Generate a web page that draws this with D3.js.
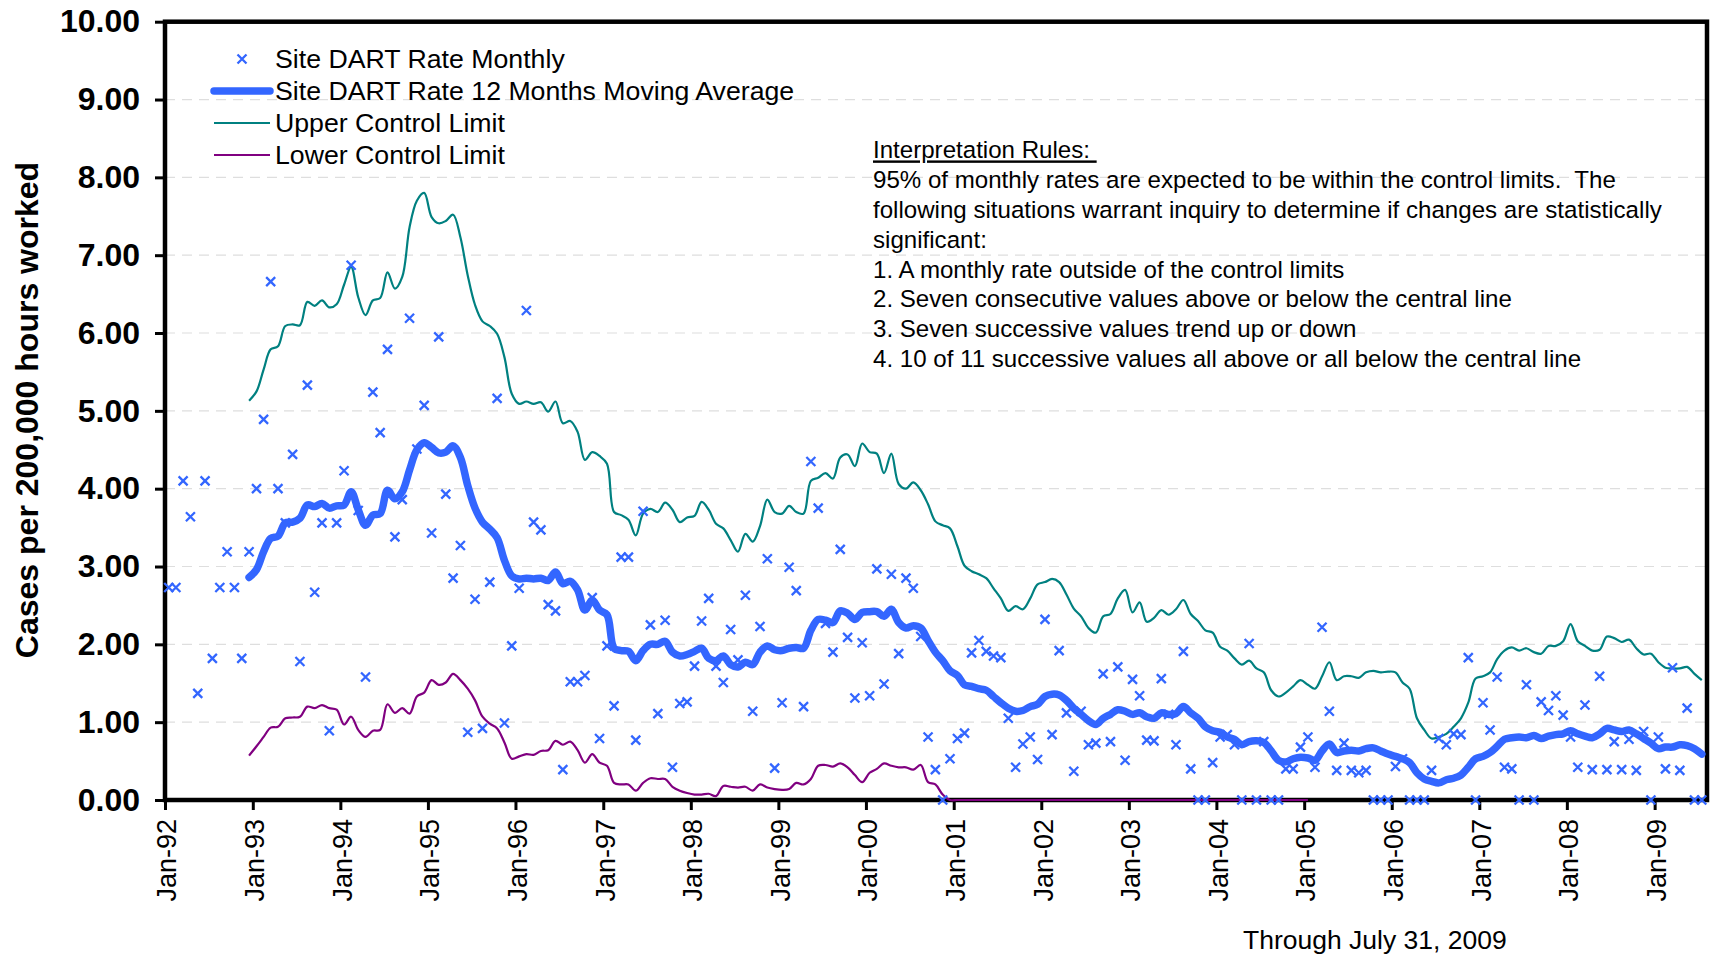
<!DOCTYPE html>
<html>
<head>
<meta charset="utf-8">
<script src="https://cdn.jsdelivr.net/npm/d3@7"></script>
<style>
    body { margin: 0; background: #ffffff; }
    svg { display: block; font-family: "Liberation Sans", Arial, sans-serif; }
</style>
</head>
<body>
<svg id="chart" width="1714" height="956"></svg>
<script>
// Months run Jan-92 .. Jul-09, control limits + moving average start at Dec-92
const firstMonth = new Date(1992, 0, 1);
const axisEnd = new Date(2009, 7, 1);
const limitStart = 11;

// Site DART rate, one value per month
const monthlyRate = [
    2.73, 2.73, 4.10, 3.64, 1.37, 4.10, 1.82, 2.73, 3.19, 2.73, 1.82, 3.19,
    4.00, 4.89, 6.66, 4.00, 3.56, 4.44, 1.78, 5.33, 2.67, 3.56, 0.89, 3.56,
    4.23, 6.87, 3.72, 1.58, 5.24, 4.72, 5.79, 3.38, 3.86, 6.19, 4.51, 5.07,
    3.43, 5.95, 3.93, 2.85, 3.27, 0.87, 2.58, 0.92, 2.80, 5.16, 0.99, 1.98,
    2.72, 6.29, 3.57, 3.47, 2.51, 2.43, 0.39, 1.52, 1.52, 1.60, 2.60, 0.79,
    1.98, 1.21, 3.12, 3.12, 0.77, 3.71, 2.25, 1.11, 2.31, 0.42, 1.24, 1.26,
    1.72, 2.30, 2.59, 1.72, 1.51, 2.19, 1.80, 2.63, 1.14, 2.23, 3.10, 0.41,
    1.25, 2.99, 2.69, 1.20, 4.35, 3.75, 2.27, 1.90, 3.22, 2.09, 1.31, 2.02,
    1.34, 2.97, 1.49, 2.90, 1.88, 2.85, 2.72, 2.10, 0.81, 0.39, 0.00, 0.53,
    0.79, 0.86, 1.89, 2.05, 1.91, 1.85, 1.83, 1.05, 0.42, 0.72, 0.81, 0.52,
    2.32, 0.84, 1.92, 1.12, 0.37, 1.14, 0.71, 0.73, 1.62, 0.75, 1.71, 0.51,
    1.55, 1.34, 0.77, 0.76, 1.56, 1.10, 0.71, 1.91, 0.40, 0.00, 0.00, 0.48,
    0.81, 0.84, 0.71, 0.00, 2.01, 0.00, 0.75, 0.00, 0.00, 0.40, 0.40, 0.68,
    0.81, 0.42, 2.22, 1.14, 0.38, 0.73, 0.38, 0.35, 0.38, 0.00, 0.00, 0.00,
    0.43, 0.53, 0.00, 0.00, 0.00, 0.38, 0.79, 0.71, 0.85, 0.84, 1.83, 0.00,
    1.25, 0.90, 1.58, 0.42, 0.40, 0.00, 1.48, 0.00, 1.26, 1.15, 1.34, 1.09,
    0.81, 0.42, 1.22, 0.39, 1.59, 0.39, 0.75, 0.39, 0.78, 0.38, 0.88, 0.00,
    0.81, 0.40, 1.70, 0.38, 1.18, 0.00, 0.00
];

// 12 months moving average, from Dec-92
const movingAvg = [
    2.86, 2.96, 3.19, 3.36, 3.39, 3.56, 3.57, 3.62, 3.79, 3.77, 3.81, 3.75, 3.78,
    3.79, 3.96, 3.73, 3.53, 3.66, 3.68, 3.98, 3.87, 3.96, 4.24, 4.50, 4.59,
    4.53, 4.46, 4.47, 4.55, 4.40, 4.04, 3.75, 3.57, 3.48, 3.37, 3.08, 2.88,
    2.84, 2.85, 2.84, 2.85, 2.82, 2.93, 2.78, 2.81, 2.70, 2.44, 2.57, 2.44,
    2.38, 1.95, 1.92, 1.91, 1.79, 1.92, 2.00, 2.00, 2.04, 1.90, 1.85, 1.87,
    1.91, 1.95, 1.82, 1.79, 1.85, 1.74, 1.71, 1.77, 1.74, 1.90, 1.98, 1.93,
    1.92, 1.95, 1.96, 1.95, 2.18, 2.32, 2.31, 2.28, 2.43, 2.40, 2.32, 2.41,
    2.42, 2.42, 2.36, 2.45, 2.28, 2.21, 2.24, 2.21, 2.05, 1.90, 1.79, 1.66,
    1.60, 1.48, 1.46, 1.43, 1.41, 1.33, 1.25, 1.18, 1.14, 1.15, 1.20, 1.23,
    1.33, 1.36, 1.35, 1.28, 1.18, 1.10, 1.02, 0.97, 1.05, 1.10, 1.16, 1.14,
    1.10, 1.12, 1.07, 1.05, 1.12, 1.10, 1.11, 1.20, 1.12, 1.05, 0.94, 0.89,
    0.87, 0.81, 0.78, 0.71, 0.75, 0.76, 0.74, 0.63, 0.51, 0.49, 0.53, 0.55,
    0.54, 0.51, 0.63, 0.72, 0.61, 0.63, 0.64, 0.63, 0.66, 0.67, 0.63, 0.59,
    0.56, 0.53, 0.48, 0.35, 0.27, 0.24, 0.22, 0.26, 0.28, 0.32, 0.42, 0.53,
    0.56, 0.61, 0.69, 0.78, 0.80, 0.81, 0.80, 0.83, 0.79, 0.82, 0.84, 0.85,
    0.89, 0.85, 0.82, 0.80, 0.85, 0.92, 0.90, 0.88, 0.90, 0.85, 0.79, 0.73,
    0.66, 0.68, 0.68, 0.71, 0.70, 0.66, 0.59
];

const upperLimit = [
    5.13, 5.25, 5.53, 5.79, 5.83, 6.09, 6.11, 6.10, 6.40, 6.35, 6.42, 6.33, 6.37,
    6.62, 6.85, 6.46, 6.23, 6.42, 6.45, 6.78, 6.57, 6.72, 7.36, 7.70, 7.80,
    7.49, 7.41, 7.44, 7.52, 7.23, 6.74, 6.36, 6.15, 6.09, 5.99, 5.69, 5.22,
    5.09, 5.12, 5.09, 5.11, 4.99, 5.12, 4.84, 4.87, 4.73, 4.37, 4.47, 4.42,
    4.32, 3.70, 3.66, 3.60, 3.40, 3.68, 3.74, 3.70, 3.82, 3.73, 3.57, 3.63,
    3.65, 3.83, 3.73, 3.55, 3.49, 3.34, 3.19, 3.42, 3.32, 3.52, 3.86, 3.70,
    3.68, 3.78, 3.70, 3.68, 4.10, 4.14, 4.20, 4.13, 4.40, 4.44, 4.29, 4.58,
    4.47, 4.45, 4.20, 4.45, 4.06, 4.00, 4.08, 3.98, 3.80, 3.58, 3.53, 3.49,
    3.26, 3.01, 2.94, 2.90, 2.85, 2.72, 2.59, 2.43, 2.49, 2.45, 2.59, 2.77,
    2.80, 2.84, 2.80, 2.64, 2.46, 2.36, 2.21, 2.15, 2.36, 2.39, 2.59, 2.70,
    2.41, 2.54, 2.29, 2.34, 2.44, 2.38, 2.45, 2.57, 2.39, 2.30, 2.18, 2.15,
    1.97, 1.92, 1.82, 1.74, 1.79, 1.69, 1.64, 1.41, 1.33, 1.38, 1.46, 1.54,
    1.48, 1.43, 1.59, 1.77, 1.54, 1.59, 1.59, 1.57, 1.64, 1.66, 1.64, 1.65,
    1.64, 1.51, 1.43, 1.05, 0.90, 0.79, 0.81, 0.85, 0.94, 1.05, 1.25, 1.56,
    1.59, 1.64, 1.81, 1.92, 1.96, 1.92, 1.95, 1.90, 1.88, 1.98, 1.98, 2.04,
    2.26, 2.04, 1.98, 1.92, 1.93, 2.10, 2.08, 2.03, 2.06, 1.95, 1.87, 1.88,
    1.77, 1.70, 1.69, 1.69, 1.71, 1.62, 1.54
];

// lower limit sits on zero from Dec-00 and stops after Jan-05
const lowerLimit = [
    0.57, 0.69, 0.81, 0.93, 0.94, 1.05, 1.06, 1.07, 1.20, 1.18, 1.22, 1.18, 1.16,
    0.97, 1.07, 0.90, 0.81, 0.89, 0.90, 1.23, 1.12, 1.18, 1.11, 1.33, 1.38,
    1.54, 1.48, 1.51, 1.62, 1.54, 1.43, 1.28, 1.07, 0.98, 0.92, 0.74, 0.53,
    0.56, 0.59, 0.58, 0.63, 0.64, 0.76, 0.71, 0.75, 0.64, 0.48, 0.59, 0.48,
    0.44, 0.22, 0.20, 0.20, 0.12, 0.22, 0.28, 0.27, 0.27, 0.17, 0.12, 0.09,
    0.07, 0.07, 0.08, 0.05, 0.18, 0.17, 0.16, 0.17, 0.12, 0.20, 0.16, 0.14,
    0.13, 0.14, 0.22, 0.20, 0.27, 0.44, 0.45, 0.43, 0.47, 0.42, 0.32, 0.23,
    0.35, 0.40, 0.47, 0.44, 0.42, 0.42, 0.39, 0.45, 0.23, 0.20, 0.07, 0.00,
    0.00, 0.00, 0.00, 0.00, 0.00, 0.00, 0.00, 0.00, 0.00, 0.00, 0.00, 0.00,
    0.00, 0.00, 0.00, 0.00, 0.00, 0.00, 0.00, 0.00, 0.00, 0.00, 0.00, 0.00,
    0.00, 0.00, 0.00, 0.00, 0.00, 0.00, 0.00, 0.00, 0.00, 0.00, 0.00, 0.00,
    0.00, 0.00, 0.00, 0.00, 0.00, 0.00, 0.00, 0.00, 0.00, 0.00, 0.00, 0.00,
    0.00
];

const yTicks = [0, 1, 2, 3, 4, 5, 6, 7, 8, 9, 10];

const legendLabels = [
    "Site DART Rate Monthly",
    "Site DART Rate 12 Months Moving Average",
    "Upper Control Limit",
    "Lower Control Limit"
];

const ruleLines = [
    "Interpretation Rules: ",
    "95% of monthly rates are expected to be within the control limits.  The",
    "following situations warrant inquiry to determine if changes are statistically",
    "significant:",
    "1. A monthly rate outside of the control limits",
    "2. Seven consecutive values above or below the central line",
    "3. Seven successive values trend up or down",
    "4. 10 of 11 successive values all above or all below the central line"
];

const blue = "#3366ff";
const teal = "#008080";
const purple = "#800080";

// middle of month i counted from Jan-92
function monthMid(i) {
    const a = d3.timeMonth.offset(firstMonth, i);
    const b = d3.timeMonth.offset(firstMonth, i + 1);
    return new Date((a.getTime() + b.getTime()) / 2);
}

function drawChart() {
    const svg = d3.select("#chart");
    const left = 165, right = 1707, top = 21.7, bottom = 800;

    const xScale = d3.scaleTime().domain([firstMonth, axisEnd]).range([left, right - 1.5]);
    const yScale = d3.scaleLinear().domain([0, 10]).range([bottom, top]);

    // Gridlines
    svg.append("g")
        .selectAll("line")
        .data(yTicks.slice(1, -1))
        .enter()
        .append("line")
            .attr("x1", left)
            .attr("x2", right)
            .attr("y1", d => yScale(d))
            .attr("y2", d => yScale(d))
            .attr("stroke", "#dedede")
            .attr("stroke-width", 1.2)
            .attr("stroke-dasharray", "10,7");

    // y-axis
    const yAxis = svg.append("g")
        .attr("transform", `translate(${left},0)`)
        .call(d3.axisLeft(yScale)
            .tickValues(yTicks)
            .tickFormat(d3.format(".2f"))
            .tickSize(10)
            .tickSizeOuter(0)
            .tickPadding(15));
    yAxis.select(".domain").remove();
    yAxis.selectAll(".tick line").attr("stroke", "#000").attr("stroke-width", 3);
    yAxis.selectAll(".tick text")
        .style("font-family", "Liberation Sans, Arial, sans-serif")
        .style("font-size", "32px")
        .style("font-weight", "bold")
        .attr("fill", "#000");

    // x-axis, one tick per January
    const years = d3.timeYear.range(firstMonth, axisEnd);
    const xAxis = svg.append("g")
        .attr("transform", `translate(0,${bottom})`)
        .call(d3.axisBottom(xScale)
            .tickValues(years)
            .tickFormat(d3.timeFormat("%b-%y"))
            .tickSize(10)
            .tickSizeOuter(0));
    xAxis.select(".domain").remove();
    xAxis.selectAll(".tick line").attr("stroke", "#000").attr("stroke-width", 3);
    xAxis.selectAll(".tick text")
        .attr("x", -19)
        .attr("y", 0)
        .attr("dy", "0.4em")
        .attr("transform", "rotate(-90)")
        .style("text-anchor", "end")
        .style("font-family", "Liberation Sans, Arial, sans-serif")
        .style("font-size", "27px")
        .attr("fill", "#000");

    // Plot frame
    svg.append("rect")
        .attr("x", left)
        .attr("y", top)
        .attr("width", right - left)
        .attr("height", bottom - top)
        .attr("fill", "none")
        .attr("stroke", "#000")
        .attr("stroke-width", 4.5);

    // Y label
    svg.append("text")
        .attr("text-anchor", "middle")
        .attr("transform", "translate(37.5, 410) rotate(-90)")
        .style("font-size", "32px")
        .style("font-weight", "bold")
        .text("Cases per 200,000 hours worked");

    const curve = d3.curveCatmullRom.alpha(0.5);
    const limitLine = d3.line()
        .x((d, i) => xScale(monthMid(i + limitStart)))
        .y(d => yScale(d))
        .curve(curve);

    // Upper and lower control limits
    svg.append("path")
        .datum(upperLimit)
        .attr("fill", "none")
        .attr("stroke", teal)
        .attr("stroke-width", 2.2)
        .attr("d", limitLine);

    svg.append("path")
        .datum(lowerLimit)
        .attr("fill", "none")
        .attr("stroke", purple)
        .attr("stroke-width", 2.2)
        .attr("d", limitLine);

    // Moving average
    svg.append("path")
        .datum(movingAvg)
        .attr("fill", "none")
        .attr("stroke", blue)
        .attr("stroke-width", 7.5)
        .attr("stroke-linejoin", "round")
        .attr("stroke-linecap", "round")
        .attr("d", limitLine);

    // Monthly rate markers
    const cross = "M-4.5,-4.5L4.5,4.5M-4.5,4.5L4.5,-4.5";
    svg.append("g")
        .selectAll("path")
        .data(monthlyRate)
        .enter()
        .append("path")
            .attr("transform", (d, i) => `translate(${xScale(monthMid(i))},${yScale(d)})`)
            .attr("d", cross)
            .attr("stroke", blue)
            .attr("stroke-width", 2.3)
            .attr("fill", "none");

    // Legend
    const legend = svg.append("g").style("font-size", "26.7px");
    const rowY = [59, 91, 123, 155];
    legend.append("path")
        .attr("transform", `translate(242,${rowY[0]})`)
        .attr("d", cross)
        .attr("stroke", blue)
        .attr("stroke-width", 2.3);
    [[blue, 7.5], [teal, 2.2], [purple, 2.2]].forEach((s, i) => {
        legend.append("line")
            .attr("x1", 214).attr("x2", 270)
            .attr("y1", rowY[i + 1]).attr("y2", rowY[i + 1])
            .attr("stroke", s[0])
            .attr("stroke-width", s[1])
            .attr("stroke-linecap", i == 0 ? "round" : "butt");
    });
    legend.selectAll("text")
        .data(legendLabels)
        .enter()
        .append("text")
            .attr("x", 275)
            .attr("y", (d, i) => rowY[i])
            .attr("dy", "0.35em")
            .text(d => d);

    // Interpretation rules box
    svg.append("g")
        .style("font-size", "24.1px")
        .selectAll("text")
        .data(ruleLines)
        .enter()
        .append("text")
            .attr("x", 873)
            .attr("y", (d, i) => 150 + i * 29.8)
            .attr("dy", "0.35em")
            .style("white-space", "pre")
            .style("text-decoration", (d, i) => i == 0 ? "underline" : "none")
            .text(d => d);

    svg.append("text")
        .attr("x", 1243)
        .attr("y", 949)
        .style("font-size", "26.5px")
        .text("Through July 31, 2009");
}

drawChart();
</script>
</body>
</html>
